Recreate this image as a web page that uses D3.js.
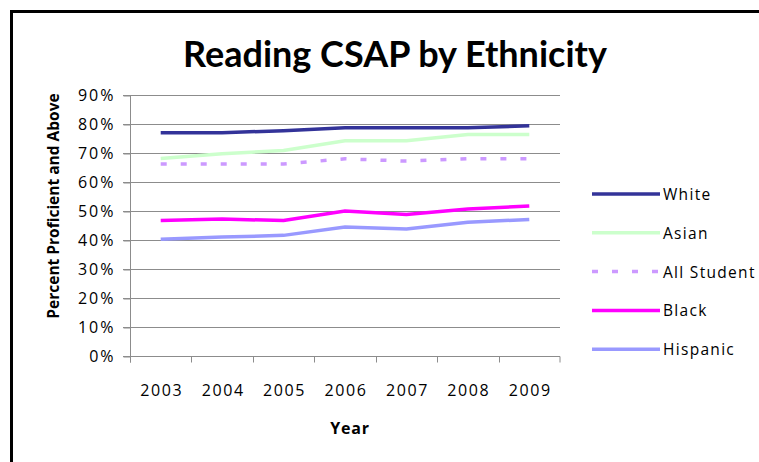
<!DOCTYPE html>
<html>
<head>
<meta charset="utf-8">
<script src="https://cdn.jsdelivr.net/npm/d3@7"></script>
<style>
  body { margin: 0; background: #fff; }
  svg { display: block; }
  text { font-family: "Open Sans", Lato, sans-serif; fill: #000; }
</style>
</head>
<body>
<div id="chart"></div>
<script>
var years = ["2003", "2004", "2005", "2006", "2007", "2008", "2009"];
var yTicks = [0, 10, 20, 30, 40, 50, 60, 70, 80, 90];

var white = [77.0, 77.0, 77.7, 78.7, 78.7, 78.7, 79.4];
var asian = [68.1, 69.7, 70.9, 74.2, 74.2, 76.4, 76.4];
var allStudent = [66.2, 66.2, 66.2, 68.0, 67.2, 68.0, 68.0];
var black = [46.7, 47.2, 46.7, 50.0, 48.8, 50.7, 51.7];
var hispanic = [40.3, 41.0, 41.6, 44.5, 43.8, 46.1, 47.1];

var seriesNames = ["White", "Asian", "All Student", "Black", "Hispanic"];
var seriesValues = [white, asian, allStudent, black, hispanic];
var seriesColors = ["#333399", "#ccffcc", "#cc99ff", "#ff00ff", "#9999ff"];
var seriesDashed = [false, false, true, false, false];

var width = 759, height = 462;
var plot = {left: 130, right: 560, top: 95, bottom: 356};

var svg = d3.select("#chart").append("svg")
	.attr("width", width)
	.attr("height", height);

// outer frame (right and bottom run off the picture)
svg.append("rect")
	.attr("x", 11.5).attr("y", 11.5)
	.attr("width", 800).attr("height", 500)
	.attr("fill", "none")
	.attr("stroke", "#000")
	.attr("stroke-width", 3);

var x = d3.scaleBand()
	.domain(years)
	.range([plot.left, plot.right]);

var y = d3.scaleLinear()
	.domain([0, 90])
	.range([plot.bottom, plot.top]);

// gridlines
svg.append("g")
	.selectAll("line")
	.data(yTicks)
	.enter().append("line")
	.attr("x1", plot.left - 7)
	.attr("x2", plot.right)
	.attr("y1", function(d) { return Math.round(y(d)) + 0.5; })
	.attr("y2", function(d) { return Math.round(y(d)) + 0.5; })
	.attr("stroke", "#8c8c8c")
	.attr("stroke-width", 1);

// y axis
var yAxis = svg.append("g")
	.attr("transform", "translate(" + (plot.left + 0.5) + ",0.5)")
	.call(d3.axisLeft(y).tickValues(yTicks).tickSize(7).tickPadding(8)
		.tickFormat(function(d) { return d + "%"; }));
yAxis.select(".domain").remove();
yAxis.append("line")
	.attr("x1", 0).attr("x2", 0)
	.attr("y1", plot.top).attr("y2", plot.bottom + 6)
	.attr("stroke", "#8c8c8c");

// x axis
var xAxis = svg.append("g")
	.attr("transform", "translate(0," + (plot.bottom + 0.5) + ")");
xAxis.selectAll("line")
	.data(years.concat(["end"]))
	.enter().append("line")
	.attr("x1", function(d) { return d == "end" ? plot.right : Math.round(x(d)) + 0.5; })
	.attr("x2", function(d) { return d == "end" ? plot.right : Math.round(x(d)) + 0.5; })
	.attr("y1", 0).attr("y2", 6)
	.attr("stroke", "#8c8c8c");
xAxis.selectAll("text")
	.data(years)
	.enter().append("text")
	.attr("x", function(d) { return x(d) + x.bandwidth() / 2 + 1; })
	.attr("y", 39)
	.attr("text-anchor", "middle")
	.style("font-size", "16px")
	.style("letter-spacing", "1.6px")
	.text(function(d) { return d; });

svg.selectAll(".tick line").attr("stroke", "#8c8c8c");
svg.selectAll(".tick text")
	.style("font-size", "16px")
	.style("letter-spacing", "2px")
	.style("font-family", "'Open Sans', sans-serif")
	.style("fill", "#000");

// lines
var line = d3.line()
	.x(function(d, i) { return x(years[i]) + x.bandwidth() / 2; })
	.y(function(d) { return y(d); });

for (var i = 0; i < seriesValues.length; i++) {
	svg.append("path")
		.datum(seriesValues[i])
		.attr("fill", "none")
		.attr("stroke", seriesColors[i])
		.attr("stroke-width", 3.5)
		.attr("stroke-dasharray", seriesDashed[i] ? "6,14" : null)
		.attr("d", line);
}

// legend
var legend = svg.append("g");
for (var j = 0; j < seriesNames.length; j++) {
	var ly = 194 + j * 38.8;
	legend.append("line")
		.attr("x1", 592).attr("x2", 660)
		.attr("y1", ly).attr("y2", ly)
		.attr("stroke", seriesColors[j])
		.attr("stroke-width", 3.5)
		.attr("stroke-dasharray", seriesDashed[j] ? "6,14" : null);
	legend.append("text")
		.attr("x", 663).attr("y", ly + 6)
		.style("font-size", "15.5px")
		.style("letter-spacing", "1.3px")
		.text(seriesNames[j]);
}

// titles
svg.append("text")
	.attr("x", 395).attr("y", 67)
	.attr("text-anchor", "middle")
	.style("font-family", "Lato, sans-serif")
	.style("font-size", "36px")
	.style("font-weight", "bold")
	.text("Reading CSAP by Ethnicity");

svg.append("text")
	.attr("x", 350).attr("y", 434)
	.attr("text-anchor", "middle")
	.style("font-size", "16px")
	.style("letter-spacing", "0.8px")
	.style("font-weight", "bold")
	.text("Year");

svg.append("text")
	.attr("transform", "translate(59,206) rotate(-90)")
	.attr("text-anchor", "middle")
	.style("font-size", "15.5px")
	.style("font-weight", "bold")
	.text("Percent Proficient and Above");
</script>
</body>
</html>
